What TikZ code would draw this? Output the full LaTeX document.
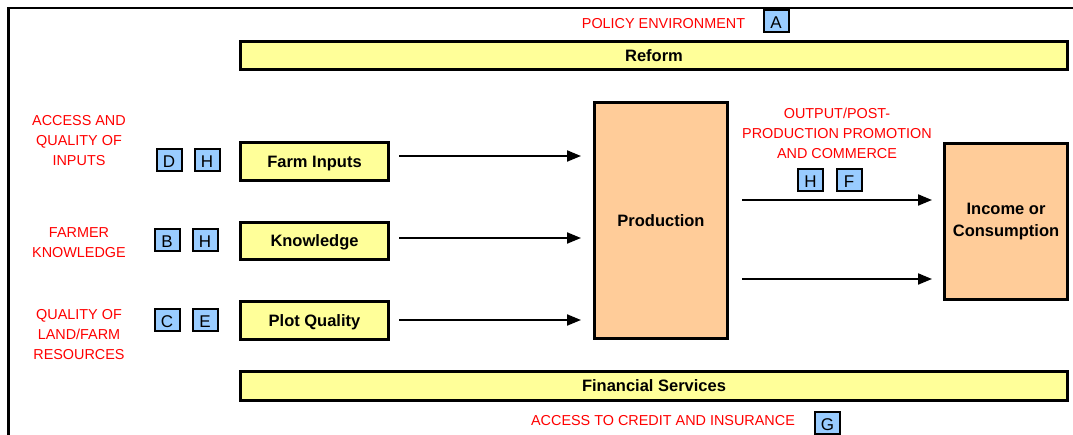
\documentclass[tikz,border=0pt]{standalone}
\usepackage{fontspec}
\setmainfont{Liberation Sans}
\usetikzlibrary{arrows.meta}
\definecolor{barY}{HTML}{FFFF99}
\definecolor{boxO}{HTML}{FFCC99}
\definecolor{boxB}{HTML}{99CCFF}
\definecolor{lblR}{HTML}{FF0000}
\tikzset{
  bar/.style={draw, line width=3pt, fill=barY, inner sep=0pt, text depth=0pt, font=\fontsize{16.5}{19}\selectfont\bfseries},
  bigbox/.style={draw, line width=3pt, fill=boxO, inner sep=0pt, align=center, font=\fontsize{16.5}{22}\selectfont\bfseries},
  tag/.style={draw, line width=2pt, fill=boxB, minimum width=25pt, minimum height=22pt, inner sep=0pt, text depth=0pt, font=\fontsize{17}{17}\selectfont},
  red/.style={text=lblR, align=center, inner sep=0pt, font=\fontsize{14.4}{20}\selectfont},
  arr/.style={line width=2pt, -{Triangle[length=14pt,width=11pt]}},
  frame/.style={line width=2.2pt}
}
\begin{document}
\begin{tikzpicture}[x=1pt,y=-1pt]
\useasboundingbox (0,0) rectangle (1073,435);
% frame
\coordinate (fbl) at (8.5,436);
\coordinate (ftl) at (8.5,7.8);
\coordinate (ftr) at (1074,7.8);
\draw[frame] (fbl) -- (ftl) -- (ftr);

% bars
\node[bar, minimum width=827pt, minimum height=28pt] (reform) at (654,55.5) {Reform};
\node[bar, minimum width=827pt, minimum height=29pt] (fin) at (654,386) {Financial Services};

% left boxes
\node[bar, minimum width=148pt, minimum height=38pt] (fi) at (314.5,161.5) {Farm Inputs};
\node[bar, minimum width=148pt, minimum height=37pt] (kn) at (314.5,241) {Knowledge};
\node[bar, minimum width=148pt, minimum height=38pt] (pq) at (314.5,320.5) {Plot Quality};

% big boxes
\node[bigbox, minimum width=133pt, minimum height=236pt] (prod) at (661,220.5) {Production};
\node[bigbox, minimum width=123pt, minimum height=156pt] (inc) at (1006,221.5) {Income or\\Consumption};

% red labels
\node[red] (lpol) at (663.5,24) {POLICY ENVIRONMENT};
\node[red] (linp) at (79,141) {ACCESS AND\\QUALITY OF\\INPUTS};
\node[red] (lknw) at (79,243) {FARMER\\KNOWLEDGE};
\node[red] (lland) at (79,335) {QUALITY OF\\LAND/FARM\\RESOURCES};
\node[red] (lout) at (837,133.5) {OUTPUT/POST-\\PRODUCTION PROMOTION\\AND COMMERCE};
\node[red] (lcred) at (663,421) {ACCESS TO CREDIT AND INSURANCE};

% tags
\node[tag] (tA) at (776,21.5) {\raisebox{-3pt}{A}};
\node[tag] (tD) at (169,160) {\raisebox{-3pt}{D}};
\node[tag] (tH1) at (207,160) {\raisebox{-3pt}{H}};
\node[tag] (tB) at (167,240) {\raisebox{-3pt}{B}};
\node[tag] (tH2) at (205,240) {\raisebox{-3pt}{H}};
\node[tag] (tC) at (167,320) {\raisebox{-3pt}{C}};
\node[tag] (tE) at (205,320) {\raisebox{-3pt}{E}};
\node[tag] (tH3) at (810.5,180) {\raisebox{-3pt}{H}};
\node[tag] (tF) at (849,180) {\raisebox{-3pt}{F}};
\node[tag] (tG) at (827.5,423) {\raisebox{-3pt}{G}};

% arrows
\coordinate (y1) at (0,156);
\coordinate (y2) at (0,238);
\coordinate (y3) at (0,320);
\coordinate (y4) at (0,200);
\coordinate (y5) at (0,279);
\draw[arr, shorten <=9pt, shorten >=12pt] (fi.east |- y1) -- (prod.west |- y1);
\draw[arr, shorten <=9pt, shorten >=12pt] (kn.east |- y2) -- (prod.west |- y2);
\draw[arr, shorten <=9pt, shorten >=12pt] (pq.east |- y3) -- (prod.west |- y3);
\draw[arr, shorten <=13pt, shorten >=11pt] (prod.east |- y4) -- (inc.west |- y4);
\draw[arr, shorten <=13pt, shorten >=11pt] (prod.east |- y5) -- (inc.west |- y5);
\end{tikzpicture}
\end{document}
